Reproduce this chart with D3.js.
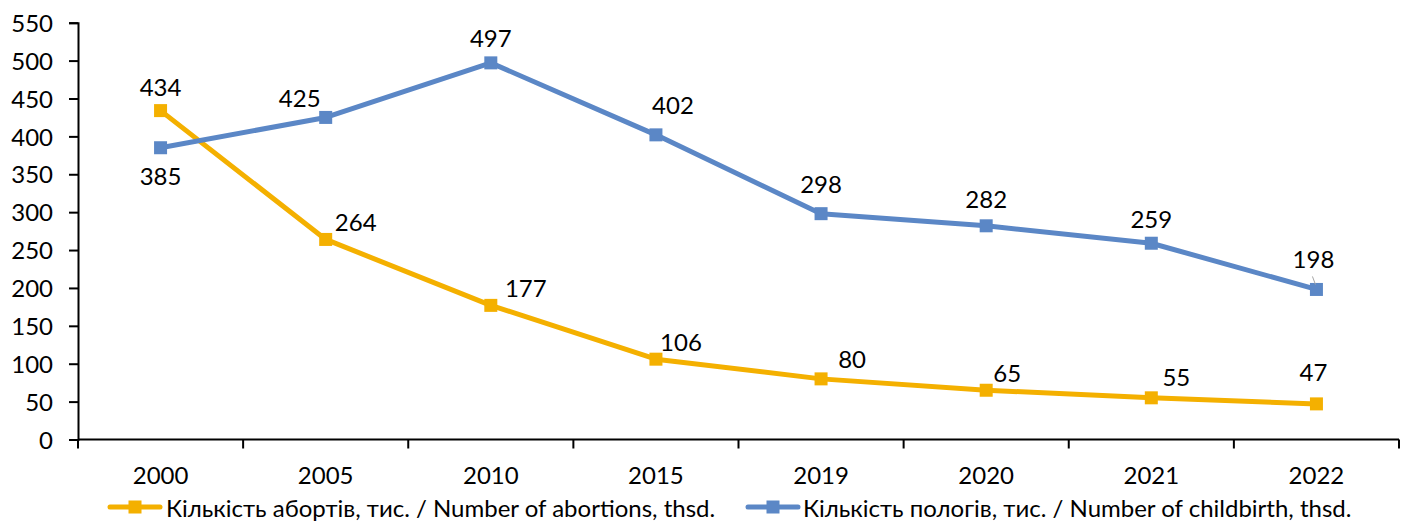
<!DOCTYPE html>
<html><head><meta charset="utf-8">
<script src="https://cdn.jsdelivr.net/npm/d3@7"></script>
<style>body{margin:0;background:#fff}svg{display:block}text{font-family:Lato,"Open Sans",sans-serif;fill:#000}</style>
</head><body><svg id="c" width="1410" height="523"></svg>
<script>
const years = ["2000","2005","2010","2015","2019","2020","2021","2022"];
const abortions = [434,264,177,106,80,65,55,47];
const childbirth = [385,425,497,402,298,282,259,198];
const yTicks = [0,50,100,150,200,250,300,350,400,450,500,550];
const seriesNames = ["Кількість абортів, тис. / Number of abortions, thsd.","Кількість пологів, тис. / Number of childbirth, thsd."];
const colors = ["#F4B000","#5B87C6"];
// label offsets (dx, dy) relative to point
const abOff = [[0,-24],[30,-18],[35,-18],[25,-18],[31,-20],[21,-18],[25,-21],[-3,-32]];
const chOff = [[0,28],[-26,-20],[0,-25],[17,-30],[0,-30],[0,-27],[0,-25],[-3,-31]];
const FS = "24px";

const svg = d3.select("#c");
const L=78,R=1399,T=22.7,B=439.5;
const x = d3.scaleBand().domain(years).range([L,R]);
const y = d3.scaleLinear().domain([0,550]).range([B,T]);

const yAx = svg.append("g").attr("transform",`translate(${L},0)`).call(d3.axisLeft(y).tickValues(yTicks).tickSize(9).tickPadding(16));
const xAx = svg.append("g").attr("transform",`translate(0,${B})`).call(d3.axisBottom(x).tickSize(0).tickPadding(0));
[yAx,xAx].forEach(g=>{g.selectAll("path").attr("stroke","#000").attr("stroke-width",2);g.selectAll("line").attr("stroke","#000").attr("stroke-width",2);g.selectAll("text").style("font-size",FS).attr("fill","#000");});
yAx.selectAll("text").attr("dy","0.36em");
xAx.selectAll("text").attr("y",35).attr("dy",null).attr("dominant-baseline","central");
xAx.select(".domain").attr("d",`M${L},0H${R}`);
// x ticks at band boundaries
xAx.selectAll(".bt").data(years.concat(["end"])).enter().append("line")
  .attr("x1",(d,i)=>L+i*x.bandwidth()).attr("x2",(d,i)=>L+i*x.bandwidth())
  .attr("y1",0).attr("y2",9).attr("stroke","#000").attr("stroke-width",2);

const cx = d=>x(d)+x.bandwidth()/2;
const line = d3.line().x((d,i)=>cx(years[i])).y(d=>y(d));
[abortions,childbirth].forEach((s,k)=>{
  svg.append("path").datum(s).attr("d",line).attr("fill","none").attr("stroke",colors[k]).attr("stroke-width",5).attr("stroke-linejoin","round");
});
[abortions,childbirth].forEach((s,k)=>{
  svg.selectAll(null).data(s).enter().append("rect")
    .attr("x",(d,i)=>cx(years[i])-6.5).attr("y",d=>y(d)-6.5).attr("width",13).attr("height",13).attr("fill",colors[k]);
});
// leader for 198
svg.append("line").attr("x1",cx("2022")-4).attr("y1",y(198)-13).attr("x2",cx("2022")-1).attr("y2",y(198)-5).attr("stroke","#A6A6A6").attr("stroke-width",1);
[[abortions,abOff],[childbirth,chOff]].forEach(([s,off])=>{
  svg.selectAll(null).data(s).enter().append("text")
    .attr("x",(d,i)=>cx(years[i])+off[i][0]).attr("y",(d,i)=>y(d)+off[i][1])
    .attr("text-anchor","middle").attr("dominant-baseline","central").style("font-size",FS).text(d=>d);
});
// legend
const leg = [[110,166],[748,803]];
leg.forEach(([lx,tx],k)=>{
  svg.append("line").attr("x1",lx).attr("x2",lx+50).attr("y1",507).attr("y2",507).attr("stroke",colors[k]).attr("stroke-width",5).attr("stroke-linecap","round");
  svg.append("rect").attr("x",lx+25-6.5).attr("y",507-6.5).attr("width",13).attr("height",13).attr("fill",colors[k]);
  svg.append("text").attr("x",tx).attr("y",507).attr("dominant-baseline","central").style("font-size",FS).text(seriesNames[k]);
});
</script></body></html>
